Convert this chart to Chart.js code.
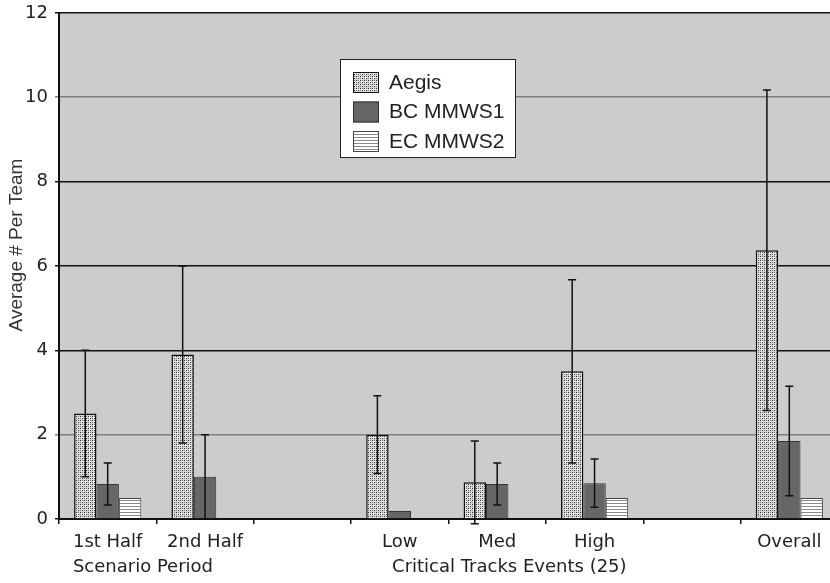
<!DOCTYPE html>
<html>
<head>
<meta charset="utf-8">
<script src="https://cdn.jsdelivr.net/npm/chart.js@4.4.1/dist/chart.umd.min.js"></script>
<style>
html, body { margin: 0; padding: 0; background: #fff; overflow: hidden; }
#wrap { width: 830px; height: 583px; overflow: hidden; position: relative; }
#box { width: 838px; height: 583px; position: absolute; left: 0; top: 0; }
</style>
</head>
<body>
<div id="wrap"><div id="box"><canvas id="chart"></canvas></div></div>
<script>
const categories = ['1st Half', '2nd Half', '', 'Low', 'Med', 'High', '', 'Overall'];
const seriesNames = ['Aegis', 'BC MMWS1', 'EC MMWS2'];
const aegis = [2.5, 3.9, null, 2.0, 0.87, 3.5, null, 6.37];
const bcMmws1 = [0.83, 1.0, null, 0.19, 0.83, 0.85, null, 1.85];
const ecMmws2 = [0.5, 0, null, 0, 0, 0.5, null, 0.5];
const aegisErr = [1.5, 2.1, 0, 0.92, 0.98, 2.17, 0, 3.8];
const bcErr = [0.5, 1.0, 0, 0, 0.5, 0.57, 0, 1.3];
const ecErr = [0, 0, 0, 0, 0, 0, 0, 0];
const yTicks = [0, 2, 4, 6, 8, 10, 12];
const groupNames = ['Scenario Period', 'Critical Tracks Events (25)'];
const groupFirst = [0, 3]; // category where each caption starts
const yTitle = 'Average # Per Team';

const ctx = document.getElementById('chart').getContext('2d');

// little tiles for the hatched bars
function makePattern(w, h, draw) {
    const c = document.createElement('canvas');
    c.width = w; c.height = h;
    draw(c.getContext('2d'));
    return ctx.createPattern(c, 'repeat');
}
const dotFill = makePattern(4, 4, g => {
    g.fillStyle = '#d6d6d6'; g.fillRect(0, 0, 4, 4);
    g.fillStyle = '#f4f4f4'; g.fillRect(1, 1, 2, 2);
    g.fillStyle = '#2e2e2e'; g.fillRect(0, 0, 1, 1); g.fillRect(2, 2, 1, 1);
    g.fillStyle = '#808080'; g.fillRect(2, 0, 1, 1); g.fillRect(0, 2, 1, 1);
});
const stripeFill = makePattern(4, 3, g => {
    g.fillStyle = '#ffffff'; g.fillRect(0, 0, 4, 3);
    g.fillStyle = '#8a8a8a'; g.fillRect(0, 2, 4, 1);
});

const plotBg = {
    id: 'plotBg',
    beforeDraw(chart) {
        const a = chart.chartArea, c = chart.ctx;
        c.save();
        c.fillStyle = '#cccccc';
        c.fillRect(a.left, a.top, a.right - a.left, a.bottom - a.top);
        c.restore();
    }
};

const errorBars = {
    id: 'errorBars',
    afterDatasetsDraw(chart) {
        const c = chart.ctx, y = chart.scales.y;
        c.save();
        c.strokeStyle = '#111';
        c.lineWidth = 1.5;
        chart.data.datasets.forEach((ds, i) => {
            const meta = chart.getDatasetMeta(i);
            ds.errors.forEach((e, j) => {
                const v = ds.data[j];
                if (!e || v == null) return;
                const x = meta.data[j].x;
                const top = y.getPixelForValue(v + e);
                const bot = y.getPixelForValue(v - e);
                c.beginPath();
                c.moveTo(x, top); c.lineTo(x, bot);
                c.moveTo(x - 4, top); c.lineTo(x + 4, top);
                c.moveTo(x - 4, bot); c.lineTo(x + 4, bot);
                c.stroke();
            });
        });
        c.restore();
    }
};

const extras = {
    id: 'extras',
    afterDraw(chart) {
        const c = chart.ctx, x = chart.scales.x;
        c.save();

        // legend box inside the plot
        c.fillStyle = '#fff';
        c.fillRect(340, 59, 175, 98);
        c.strokeStyle = '#222';
        c.lineWidth = 1;
        c.strokeRect(340.5, 59.5, 175, 98);
        c.font = '21px "Liberation Sans"';
        c.textBaseline = 'middle';
        chart.data.datasets.forEach((ds, i) => {
            const cy = 82 + i * 29.5;
            c.fillStyle = ds.backgroundColor;
            c.fillRect(353, cy - 10, 26, 21);
            c.strokeStyle = ds.borderColor;
            c.strokeRect(353.5, cy - 9.5, 25, 20);
            c.fillStyle = '#222';
            c.fillText(ds.label, 389, cy + 1);
        });

        // second row of x captions
        c.font = '18px "DejaVu Sans"';
        c.fillStyle = '#222';
        c.textAlign = 'left';
        groupNames.forEach((name, i) => {
            const k = groupFirst[i];
            const w = c.measureText(categories[k]).width;
            const left = x.getPixelForValue(k) - w / 2 + (i === 0 ? 0 : 10);
            c.fillText(name, left, 567);
        });

        // y title
        c.translate(17, 245);
        c.rotate(-Math.PI / 2);
        c.textAlign = 'center';
        c.font = '19px "Liberation Sans"';
        c.fillStyle = '#333';
        c.fillText(yTitle, 0, 0);
        c.restore();
    }
};

const barCommon = { categoryPercentage: 0.69, barPercentage: 1.0, borderSkipped: 'start' };

new Chart(ctx, {
    type: 'bar',
    data: {
        labels: categories,
        datasets: [
            Object.assign({ label: seriesNames[0], data: aegis, errors: aegisErr,
                backgroundColor: dotFill, borderColor: '#111', borderWidth: 1.5 }, barCommon),
            Object.assign({ label: seriesNames[1], data: bcMmws1, errors: bcErr,
                backgroundColor: '#666666', borderColor: '#333', borderWidth: 1 }, barCommon),
            Object.assign({ label: seriesNames[2], data: ecMmws2, errors: ecErr,
                backgroundColor: stripeFill, borderColor: '#444', borderWidth: 1 }, barCommon)
        ]
    },
    options: {
        responsive: true,
        maintainAspectRatio: false,
        animation: false,
        layout: { padding: { top: 0, right: 0, bottom: 0, left: 0 } },
        plugins: {
            legend: { display: false },
            tooltip: { enabled: false }
        },
        scales: {
            x: {
                grid: { drawOnChartArea: false, color: '#111', lineWidth: 1.5, tickLength: 5 },
                border: { color: '#111', width: 2 },
                ticks: {
                    color: '#222', font: { family: 'DejaVu Sans', size: 18 },
                    padding: 8, maxRotation: 0, autoSkip: false
                },
                afterFit(s) { s.height = 64; }
            },
            y: {
                min: 0,
                max: 12,
                afterBuildTicks(s) { s.ticks = yTicks.map(v => ({ value: v })); },
                grid: {
                    color: c => (c.tick && (c.tick.value === 10 || c.tick.value === 2)) ? '#808080' : '#111',
                    lineWidth: 1.5,
                    tickLength: 4
                },
                border: { color: '#111', width: 2 },
                ticks: { color: '#222', font: { family: 'DejaVu Sans', size: 18, lineHeight: 0.65 }, padding: 7 },
                afterFit(s) { s.width = 59; }
            }
        }
    },
    plugins: [plotBg, errorBars, extras]
});
</script>
</body>
</html>
